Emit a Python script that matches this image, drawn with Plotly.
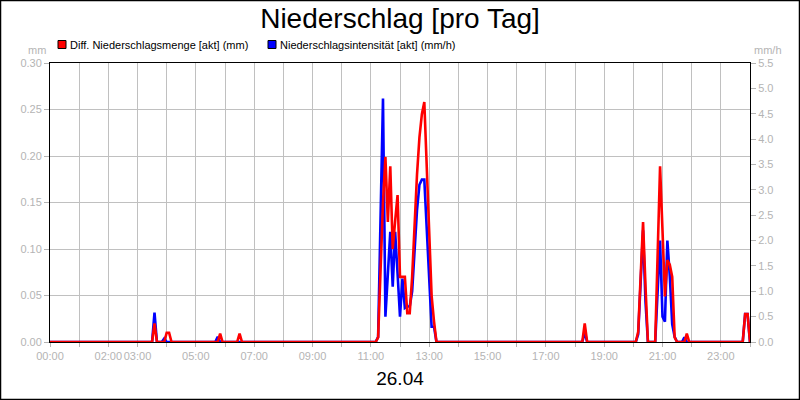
import plotly.graph_objects as go

# Zeitpunkte (5-Minuten-Raster, nur um die Regenereignisse herum) und Messwerte
zeiten = [
    "00:00", "03:30", "03:35", "03:40", "03:50", "03:55", "04:00", "04:05", "04:10",
    "05:40", "05:45", "05:50", "05:55", "06:25", "06:30", "06:35",
    "11:10", "11:15", "11:20", "11:25", "11:30", "11:35", "11:40", "11:45", "11:50",
    "11:55", "12:00", "12:05", "12:10", "12:15", "12:20", "12:25", "12:30", "12:35",
    "12:40", "12:45", "12:50", "12:55", "13:00", "13:05", "13:10", "13:15",
    "18:15", "18:20", "18:25",
    "20:05", "20:10", "20:15", "20:20", "20:25", "20:30",
    "20:45", "20:50", "20:55", "21:00", "21:05", "21:10", "21:15", "21:20", "21:25", "21:30",
    "21:40", "21:45", "21:50", "21:55",
    "23:45", "23:50", "23:55", "24:00",
]
menge_mm = [
    0, 0, 0.020, 0, 0, 0, 0.010, 0.010, 0,
    0, 0, 0.009, 0, 0, 0.009, 0,
    0, 0.005, 0.08, 0.15, 0.199, 0.129, 0.189, 0.10, 0.13,
    0.158, 0.07, 0.07, 0.07, 0.031, 0.031, 0.07, 0.13, 0.18,
    0.22, 0.245, 0.258, 0.19, 0.11, 0.05, 0.022, 0,
    0, 0.020, 0,
    0, 0.011, 0.07, 0.129, 0.06, 0,
    0, 0.09, 0.189, 0.12, 0.049, 0.088, 0.083, 0.070, 0.005, 0,
    0, 0, 0.009, 0,
    0, 0.030, 0.030, 0,
]
intensitaet_mmh = [
    0, 0, 0.58, 0, 0, 0.07, 0, 0, 0,
    0, 0.10, 0, 0, 0, 0, 0,
    0, 0.1, 2.2, 4.8, 0.5, 1.3, 2.17, 1.09, 2.17,
    1.35, 0.5, 1.25, 0.67, 0.7, 0.7, 1.0, 1.8, 2.6,
    3.1, 3.2, 3.2, 2.2, 1.4, 0.3, 0.3, 0,
    0, 0.19, 0,
    0, 0.15, 1.2, 2.2, 0.8, 0,
    0, 1.0, 2.0, 0.5, 0.4, 2.0, 1.3, 0.35, 0.1, 0,
    0, 0.09, 0, 0,
    0, 0.55, 0.55, 0,
]

tick_stunden = list(range(0, 25))
tick_texte = ["00:00", "", "02:00", "03:00", "", "05:00", "", "07:00", "", "09:00", "",
              "11:00", "", "13:00", "", "15:00", "", "17:00", "", "19:00", "", "21:00",
              "", "23:00", ""]

minuten = [int(z.split(":")[0]) * 60 + int(z.split(":")[1]) for z in zeiten]

W, H = 800, 400
L, R, T, B = 50, 50, 63, 58
GRAU = "#b4b4b4"
SCHRIFT = "Liberation Sans, Arial, sans-serif"


def px_x(px):
    return (px - L) / (W - L - R)


def px_y(py):
    return (H - B - py) / (H - T - B)


fig = go.Figure()

# blau liegt auf der Grundachse (rechts), rot auf der überlagerten Achse (links) -> rot oben
fig.add_trace(go.Scatter(
    x=minuten, y=intensitaet_mmh, yaxis="y", mode="lines",
    line=dict(color="#0000ff", width=2.6), name="Niederschlagsintensität [akt] (mm/h)",
))
fig.add_trace(go.Scatter(
    x=minuten, y=menge_mm, yaxis="y2", mode="lines",
    line=dict(color="#ff0000", width=2.6), name="Diff. Niederschlagsmenge [akt] (mm)",
))

# Legende als Quadrate + Text
legende = [
    (58, "#ff0000", "Diff. Niederschlagsmenge [akt] (mm)"),
    (268, "#0000ff", "Niederschlagsintensität [akt] (mm/h)"),
]
shapes = []
annotations = []
for x0, farbe, text in legende:
    shapes.append(dict(type="rect", xref="paper", yref="paper",
                       x0=px_x(x0), x1=px_x(x0 + 8), y0=px_y(48.5), y1=px_y(40.5),
                       fillcolor=farbe, line=dict(color="black", width=1)))
    annotations.append(dict(xref="paper", yref="paper", x=px_x(x0 + 10), y=px_y(45),
                            xanchor="left", yanchor="middle", showarrow=False,
                            text=text, font=dict(family=SCHRIFT, size=11, color="black")))

annotations.append(dict(xref="paper", yref="paper", x=px_x(48), y=px_y(50),
                        xanchor="right", yanchor="middle", showarrow=False,
                        text="mm", font=dict(family=SCHRIFT, size=11, color=GRAU)))
annotations.append(dict(xref="paper", yref="paper", x=px_x(752), y=px_y(50),
                        xanchor="left", yanchor="middle", showarrow=False,
                        text="mm/h", font=dict(family=SCHRIFT, size=11, color=GRAU)))

# Rahmen um das ganze Bild
shapes.append(dict(type="rect", xref="paper", yref="paper",
                   x0=px_x(0.5), x1=px_x(W - 0.5), y0=px_y(H - 0.5), y1=px_y(0.5),
                   line=dict(color="black", width=1.5), layer="above"))

achse = dict(
    showline=True, linecolor="black", linewidth=1,
    ticks="outside", ticklen=5, tickcolor=GRAU,
    tickfont=dict(family=SCHRIFT, size=11, color=GRAU),
    zeroline=False, automargin=False,
)

fig.update_layout(
    width=W, height=H,
    margin=dict(l=L, r=R, t=T, b=B),
    paper_bgcolor="white", plot_bgcolor="white",
    font=dict(family=SCHRIFT, size=11, color=GRAU),
    title=dict(text="Niederschlag [pro Tag]", x=0.5, xanchor="center",
               y=1 - 18 / H, yanchor="middle", yref="container",
               font=dict(family=SCHRIFT, size=28, color="black")),
    xaxis=dict(
        achse,
        range=[0, 1440], tickvals=[h * 60 for h in tick_stunden], ticktext=tick_texte,
        tickangle=0, mirror=True, ticklen=4,
        showgrid=True, gridcolor="#c0c0c0", gridwidth=1,
        title=dict(text="26.04", standoff=10,
                   font=dict(family=SCHRIFT, size=19, color="black")),
    ),
    yaxis=dict(
        achse,
        range=[0, 5.5], dtick=0.5, tickformat=".1f", side="right",
        showgrid=False,
    ),
    yaxis2=dict(
        achse,
        range=[0, 0.30], dtick=0.05, tickformat=".2f", overlaying="y", side="left",
        showgrid=True, gridcolor="#c0c0c0", gridwidth=1,
    ),
    shapes=shapes,
    annotations=annotations,
    showlegend=False,
    hovermode=False,
)

# Browser-Standardrand der Seite entfernen, damit die Grafik bei (0,0) beginnt
fig.write_html("out.html", config={"displayModeBar": False, "staticPlot": True},
               post_script="document.body.style.margin='0';")
